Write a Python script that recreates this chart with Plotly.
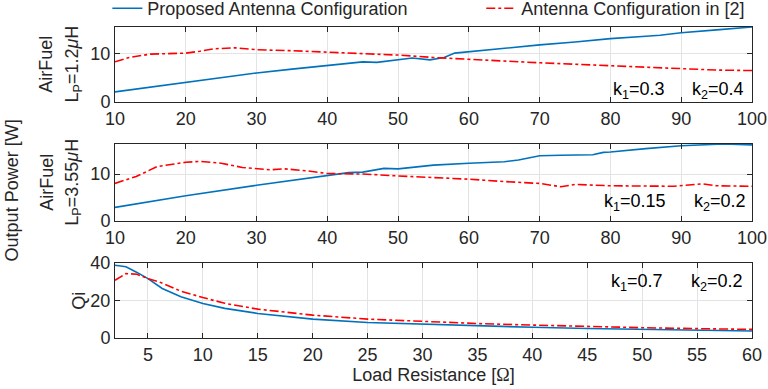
import plotly.graph_objects as go

# ---- data ----
x1_prop = [10, 15, 20, 25, 30, 35, 40, 45, 47, 50, 52, 54.5, 56.5, 58, 60, 65, 70, 75, 80, 85, 87, 90, 92, 95, 100]
y1_prop = [2.1, 3.1, 4.1, 5.1, 6.0, 6.8, 7.6, 8.3, 8.2, 8.8, 9.1, 8.7, 9.2, 10.1, 10.4, 11.1, 11.8, 12.4, 13.1, 13.6, 13.8, 14.3, 14.5, 14.9, 15.5]
x1_ref = [10, 12, 15, 18, 20, 22, 24, 27, 30, 35, 40, 45, 50, 55, 60, 65, 70, 75, 80, 85, 90, 95, 100]
y1_ref = [8.3, 9.2, 9.9, 10.1, 10.1, 10.5, 11.0, 11.2, 10.8, 10.6, 10.3, 10.0, 9.7, 9.2, 8.8, 8.4, 8.1, 7.8, 7.5, 7.1, 6.8, 6.6, 6.5]

x2_prop = [10, 20, 30, 40, 43, 45, 48, 50, 55, 60, 65, 67, 70, 73, 77.5, 79, 80, 85, 90, 96, 100]
y2_prop = [2.9, 5.4, 7.6, 9.8, 10.3, 10.4, 11.2, 11.1, 11.9, 12.3, 12.6, 13.0, 13.9, 14.0, 14.1, 14.6, 14.7, 15.4, 16.0, 16.4, 16.2]
x2_ref = [10, 13, 16, 20, 22, 25, 28, 32, 34, 37, 40, 45, 50, 55, 60, 65, 70, 73, 75, 80, 85, 89, 93, 95, 100]
y2_ref = [8.0, 9.5, 11.6, 12.5, 12.7, 12.3, 11.4, 10.9, 11.1, 10.7, 10.1, 10.0, 9.6, 9.3, 8.9, 8.4, 8.0, 7.3, 7.8, 7.5, 7.5, 7.4, 7.9, 7.5, 7.4]

x3_prop = [2, 3, 4, 5, 6.3, 8, 10, 12, 15, 20, 25, 30, 35, 40, 45, 50, 55, 60]
y3_prop = [38.8, 38, 35, 31.7, 26.4, 22, 18.4, 15.8, 13.1, 10.1, 8.3, 7.3, 6.4, 5.7, 5.1, 4.6, 4.1, 3.7]
x3_ref = [2, 3, 4, 5, 6, 8, 10, 12, 15, 20, 25, 30, 35, 40, 45, 50, 55, 60]
y3_ref = [30.8, 34.4, 34, 31.7, 30, 25, 21.6, 18.5, 15.4, 12.2, 10.1, 8.7, 7.7, 6.9, 6.1, 5.5, 5.0, 4.6]

name_prop = "Proposed Antenna Configuration"
name_ref = "Antenna Configuration in [2]"

BLUE = "#0072BD"
RED = "#FF0000"
FONT = "Liberation Sans, Arial, sans-serif"
DARK = "#262626"
FS = 18

fig = go.Figure()
panels = [
    (x1_prop, y1_prop, x1_ref, y1_ref, "x", "y"),
    (x2_prop, y2_prop, x2_ref, y2_ref, "x2", "y2"),
    (x3_prop, y3_prop, x3_ref, y3_ref, "x3", "y3"),
]
for i, (xp, yp, xr, yr, xa, ya) in enumerate(panels):
    fig.add_trace(go.Scatter(x=xp, y=yp, mode="lines", name=name_prop,
                             line=dict(color=BLUE, width=1.6),
                             xaxis=xa, yaxis=ya, showlegend=(i == 0), legend="legend"))
    fig.add_trace(go.Scatter(x=xr, y=yr, mode="lines", name=name_ref,
                             line=dict(color=RED, width=1.6, dash="dashdot"),
                             xaxis=xa, yaxis=ya, showlegend=(i == 0), legend="legend2"))

axis_common = dict(showline=True, linecolor=DARK, linewidth=1, mirror="allticks",
                   ticks="inside", ticklen=5, tickcolor=DARK,
                   showgrid=True, gridcolor="#e3e3e3", gridwidth=1,
                   zeroline=False, ticklabeloverflow="allow",
                   tickfont=dict(family=FONT, size=FS, color=DARK))

fig.update_layout(
    width=768, height=389,
    margin=dict(l=115, r=16, t=27, b=51, autoexpand=False),
    plot_bgcolor="white", paper_bgcolor="white",
    font=dict(family=FONT, size=FS, color=DARK),
    xaxis=dict(axis_common, domain=[0, 1], range=[10, 100], dtick=10, anchor="y"),
    yaxis=dict(axis_common, domain=[0.7588, 1], range=[0, 15.5], tickvals=[0, 10], anchor="x"),
    xaxis2=dict(axis_common, domain=[0, 1], range=[10, 100], dtick=10, anchor="y2"),
    yaxis2=dict(axis_common, domain=[0.376, 0.624], range=[0, 16.4], tickvals=[0, 10], anchor="x2"),
    xaxis3=dict(axis_common, domain=[0, 1], range=[2, 60], tickvals=list(range(5, 61, 5)), anchor="y3",
                title=dict(text="Load Resistance [<span style='font-family:Liberation Serif'>Ω</span>]",
                           font=dict(family=FONT, size=FS, color=DARK), standoff=4)),
    yaxis3=dict(axis_common, domain=[0, 0.241], range=[0, 40], tickvals=[0, 20, 40], anchor="x3"),
    legend=dict(orientation="h", x=-0.012, xanchor="left", y=1.0, yanchor="bottom",
                font=dict(family=FONT, size=FS, color=DARK), bgcolor="rgba(0,0,0,0)",
                itemwidth=30),
    legend2=dict(orientation="h", x=0.575, xanchor="left", y=1.0, yanchor="bottom",
                 font=dict(family=FONT, size=FS, color=DARK), bgcolor="rgba(0,0,0,0)",
                 itemwidth=30),
)

ann = []
def ytitle(text, x, y):
    ann.append(dict(text=text, xref="paper", yref="paper", x=x, y=y, xanchor="center", yanchor="middle",
                    textangle=-90, showarrow=False, font=dict(family=FONT, size=FS, color=DARK)))

ytitle("AirFuel", -0.1078, 0.88)
ytitle("L<sub>P</sub>=1.2<i>μ</i>H", -0.0656, 0.88)
ytitle("AirFuel", -0.1078, 0.50)
ytitle("L<sub>P</sub>=3.55<i>μ</i>H", -0.0656, 0.50)
ytitle("Qi", -0.0563, 0.12)
ytitle("Output Power [W]", -0.161, 0.476)

def ktext(text, x, y):
    ann.append(dict(text=text, xref="paper", yref="paper", x=x, y=y, xanchor="center", yanchor="middle",
                    showarrow=False, font=dict(family=FONT, size=FS, color="black")))

ktext("k<sub>1</sub>=0.3", 0.822, 0.797)
ktext("k<sub>2</sub>=0.4", 0.947, 0.797)
ktext("k<sub>1</sub>=0.15", 0.817, 0.437)
ktext("k<sub>2</sub>=0.2", 0.95, 0.437)
ktext("k<sub>1</sub>=0.7", 0.819, 0.177)
ktext("k<sub>2</sub>=0.2", 0.945, 0.177)

fig.update_layout(annotations=ann)
fig.write_html("out.html")
